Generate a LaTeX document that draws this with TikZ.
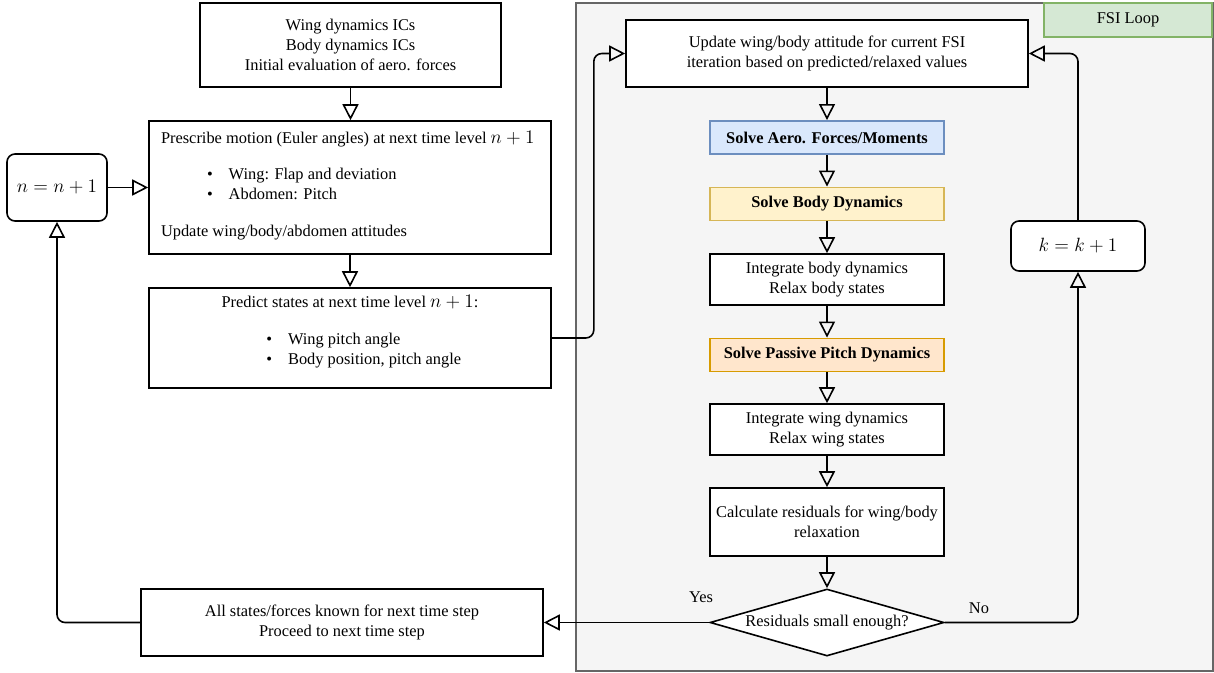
\documentclass[tikz,border=0pt]{standalone}
\usepackage[no-math]{fontspec}
\setmainfont{Liberation Serif}
\usetikzlibrary{arrows.meta,shapes.geometric}
\definecolor{contfill}{HTML}{F5F5F5}
\definecolor{contline}{HTML}{666666}
\definecolor{bluefill}{HTML}{DAE8FC}
\definecolor{blueline}{HTML}{6C8EBF}
\definecolor{yelfill}{HTML}{FFF2CC}
\definecolor{yelline}{HTML}{D6B656}
\definecolor{orafill}{HTML}{FFE6CC}
\definecolor{oraline}{HTML}{D79B00}
\definecolor{grnfill}{HTML}{D5E8D4}
\definecolor{grnline}{HTML}{82B366}
\newcommand{\bigmth}[1]{{\fontsize{13.8pt}{15pt}\selectfont$#1$}}
\begin{document}
\begin{tikzpicture}[x=0.75pt,y=-0.75pt,
  font=\fontsize{12.3pt}{15pt}\selectfont,
  box/.style={draw, line width=1.2pt, fill=white, inner sep=0pt, align=center},
  colbox/.style={box, minimum width=175.5pt},
  flow/.style={line width=1.2pt, rounded corners=6pt, -{Triangle[open, length=12pt, width=12pt, line width=1.2pt]}}]
\useasboundingbox (0,0) rectangle (1214,672);
% FSI container
\draw[fill=contfill, draw=contline, line width=1.2pt] (576,3) rectangle (1213,671);
\node[box, fill=grnfill, draw=grnline, minimum width=126pt, minimum height=25.5pt] (fsi) at (1128,20) {FSI Loop};

% left column
\node[box, minimum width=225.75pt, minimum height=63pt] (top) at (350.5,45)
  {Wing dynamics ICs\\Body dynamics ICs\\Initial evaluation of aero. forces};
\node[box, minimum width=301.5pt, minimum height=99.75pt] (presc) at (350,187.5)
  {\parbox{283.5pt}{\raggedright
   \mbox{Prescribe motion (Euler angles) at next time level \bigmth{n+1}}\par\vspace{12pt}
   \hspace*{34.5pt}\textbullet\hspace{12pt}Wing: Flap and deviation\par
   \hspace*{34.5pt}\textbullet\hspace{12pt}Abdomen: Pitch\par\vspace{12.5pt}
   Update wing/body/abdomen attitudes\par\vspace{3pt}}};
\node[box, rounded corners=6pt, minimum width=75pt, minimum height=50.25pt] (npp) at (57,187.5) {\bigmth{n=n+1}};
\node[box, minimum width=301.5pt, minimum height=75pt] (pred) at (350,338)
  {\parbox{283.5pt}{\centering
   Predict states at next time level \bigmth{n+1}:\par\vspace{12.5pt}\raggedright
   \hspace*{79pt}\textbullet\hspace{12pt}Wing pitch angle\par
   \hspace*{79pt}\textbullet\hspace{12pt}Body position, pitch angle\par\vspace{10pt}}};
\node[box, minimum width=301.5pt, minimum height=50.25pt] (allst) at (342,622.5)
  {All states/forces known for next time step\\Proceed to next time step};

% FSI column
\node[box, minimum width=301.5pt, minimum height=50.25pt] (upd) at (827,53.5)
  {Update wing/body attitude for current FSI\\iteration based on predicted/relaxed values};
\node[colbox, fill=bluefill, draw=blueline, minimum height=25pt] (aero) at (827,137.5) {\textbf{Solve Aero. Forces/Moments}};
\node[colbox, fill=yelfill, draw=yelline, minimum height=25pt] (body) at (827,204) {\textbf{Solve Body Dynamics}};
\node[colbox, minimum height=38.25pt] (intb) at (827,279.5) {Integrate body dynamics\\Relax body states};
\node[colbox, fill=orafill, draw=oraline, minimum height=25pt] (pass) at (827,355) {\textbf{Solve Passive Pitch Dynamics}};
\node[colbox, minimum height=38.25pt] (intw) at (827,429.5) {Integrate wing dynamics\\Relax wing states};
\node[colbox, minimum height=51pt] (calc) at (827,522) {Calculate residuals for wing/body\\relaxation};
\node[box, diamond, minimum width=175.5pt, minimum height=50.25pt] (dia) at (827,622.5)
  {\raisebox{2pt}{\makebox[0pt]{Residuals small enough?}}};
\node[box, rounded corners=6pt, minimum width=100.5pt, minimum height=37.5pt] (kbox) at (1078,246) {\bigmth{k=k+1}};

\node[inner sep=0pt] (yes) at (701,597) {Yes};
\node[inner sep=0pt] (no) at (979,608) {No};

% connectors
\draw[flow] (top.south) -- (top.south |- presc.north);
\draw[flow] (presc) -- (pred);
\draw[flow] (npp) -- (presc);
\draw[flow] (pred.east) -- ++(42,0) |- (upd.west);
\draw[flow] (upd) -- (aero);
\draw[flow] (aero) -- (body);
\draw[flow] (body) -- (intb);
\draw[flow] (intb) -- (pass);
\draw[flow] (pass) -- (intw);
\draw[flow] (intw) -- (calc);
\draw[flow] (calc) -- (dia);
\draw[flow] (dia.west) -- (allst.east);
\draw[flow] (dia.east) -| (kbox.south);
\draw[flow] (kbox.north) |- (upd.east);
\draw[flow] (allst.west) -| (npp.south);
\end{tikzpicture}
\end{document}
